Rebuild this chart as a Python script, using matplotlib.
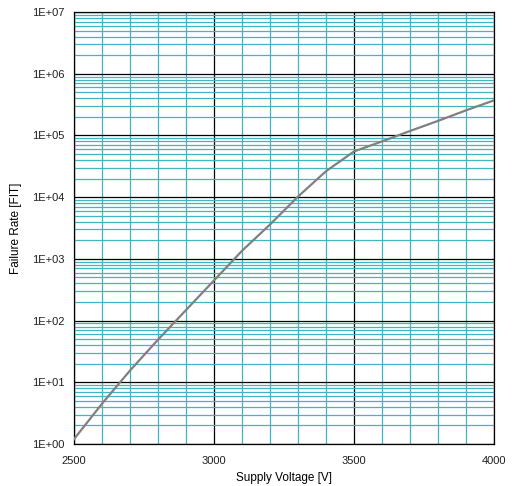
import matplotlib
matplotlib.use('Agg')
import matplotlib.pyplot as plt
import matplotlib.ticker as ticker
import numpy as np

# Data
voltage = [2500, 2600, 2700, 2800, 2900, 3000, 3100, 3200, 3300, 3400, 3500,
           3600, 3700, 3800, 3900, 4000]
failure_rate = [1.2, 4.5, 15.5, 49, 148, 447, 1350, 3600, 10200, 26300, 55000,
                80000, 118000, 172000, 255000, 370000]

x_ticks = [2500, 3000, 3500, 4000]
y_ticks = [1e0, 1e1, 1e2, 1e3, 1e4, 1e5, 1e6, 1e7]
y_tick_labels = ['1E+00', '1E+01', '1E+02', '1E+03', '1E+04', '1E+05', '1E+06', '1E+07']

CYAN = '#3fb6c4'
plt.rcParams['font.family'] = ['Liberation Sans', 'DejaVu Sans']

fig = plt.figure(figsize=(5.16, 4.86), dpi=100)
ax = fig.add_axes([74 / 516, 1 - 444 / 486, (494 - 74) / 516, (444 - 12) / 486])

ax.set_yscale('log')
ax.set_xlim(2500, 4000)
ax.set_ylim(1, 1e7)

ax.xaxis.set_minor_locator(ticker.MultipleLocator(100))
ax.yaxis.set_minor_locator(ticker.LogLocator(base=10, subs=np.arange(2, 10), numticks=20))
ax.yaxis.set_minor_formatter(ticker.NullFormatter())
ax.set_xticks(x_ticks)
ax.set_xticklabels([str(v) for v in x_ticks])
ax.set_yticks(y_ticks)
ax.set_yticklabels(y_tick_labels)

ax.grid(which='minor', color=CYAN, linewidth=0.9, zorder=0)
ax.grid(which='major', color='black', linewidth=0.9, zorder=1)
ax.set_axisbelow(True)

ax.tick_params(which='both', length=0, labelsize=8, colors='#202020')
ax.tick_params(axis='x', pad=9)
ax.tick_params(axis='y', pad=7)

for s in ax.spines.values():
    s.set_color('black')
    s.set_linewidth(0.9)

ax.plot(voltage, failure_rate, color='#808080', linewidth=1.6, zorder=3)

ax.set_xlabel('Supply Voltage [V]', fontsize=8.5, labelpad=4)
ax.set_ylabel('Failure Rate [FIT]', fontsize=8.5, labelpad=7)

fig.savefig('out.png', dpi=100)
